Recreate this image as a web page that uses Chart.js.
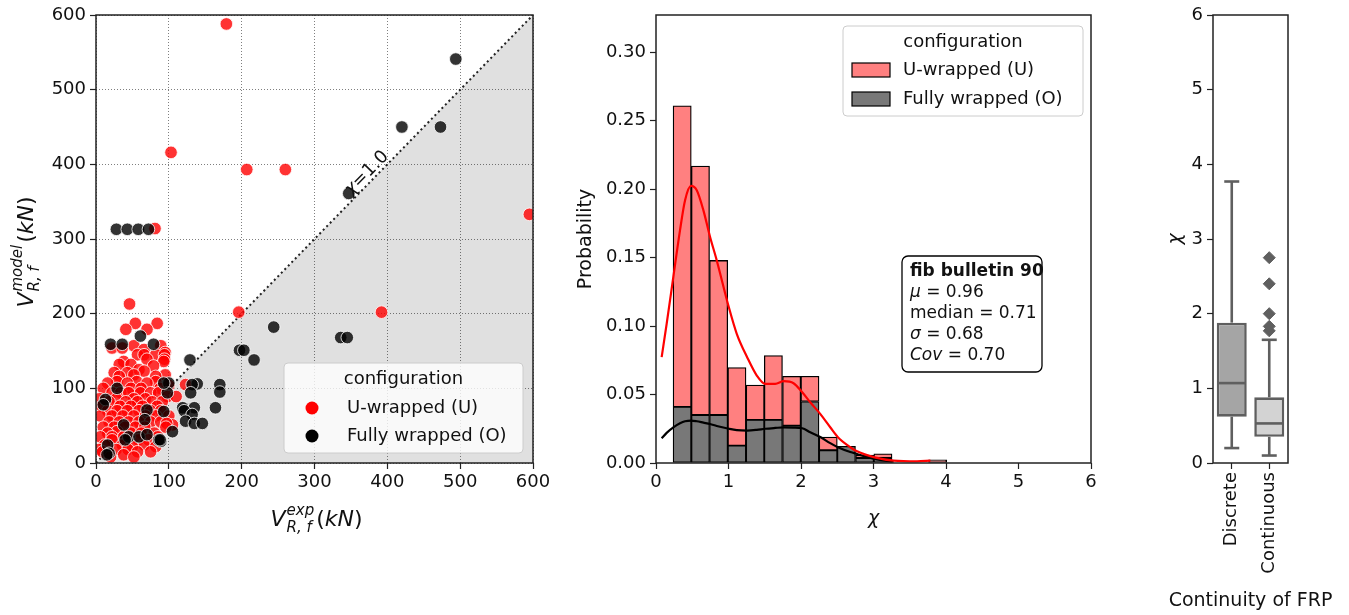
<!DOCTYPE html>
<html><head><meta charset="utf-8">
<script src="https://cdn.jsdelivr.net/npm/chart.js@4.4.0/dist/chart.umd.min.js"></script>
<style>
html,body{margin:0;padding:0;background:#fff;width:1349px;height:615px;overflow:hidden}
.box{position:absolute;top:0;height:615px}
</style></head><body>
<div class="box" style="left:0;width:560px"><canvas id="c1" width="560" height="615"></canvas></div>
<div class="box" style="left:560px;width:560px"><canvas id="c2" width="560" height="615"></canvas></div>
<div class="box" style="left:1120px;width:229px"><canvas id="c3" width="229" height="615"></canvas></div>
<script>
// ---------------- DATA ----------------
const unityLine = [0, 600];
const uWrapped = [
 [179,588],[103,416],[207,393],[260,393],[81,314],[46,213],[196,202],[392,202],[595,333],
 [54,187],[84,187],[41,179],[70,179],[52,157],[89,157],[22,154],[36,154],[66,152],[95,148],
 [57,145],[66,145],[82,145],[94,145],[70,139],[94,139],[38,136],[93,136],[32,132],[48,132],
 [79,130],[59,125],[66,123],[25,121],[43,121],[52,118],[95,118],[32,116],[82,116],
 [29,109],[56,109],[82,109],[16,107],[43,107],[70,107],[123,105],[100,104],
 [10,100],[48,100],[62,100],[88,100],[22,94],[34,94],[45,94],[61,94],[75,94],[86,94],
 [98,89],[110,89],[5,86],[28,86],[52,86],[68,86],[18,82],[41,82],[57,82],[77,82],[91,82],
 [8,76],[33,76],[48,76],[64,76],[84,76],[16,70],[29,70],[43,70],[59,70],[75,70],[89,70],
 [6,63],[22,63],[37,63],[52,63],[68,63],[82,63],[100,63],[18,55],[32,55],[45,55],[59,55],
 [75,55],[89,55],[105,51],[97,53],[10,48],[25,48],[40,48],[54,48],[67,48],[96,48],
 [29,42],[16,40],[48,40],[62,40],[80,40],[6,35],[22,35],[38,35],[85,35],[22,31],[58,31],
 [72,31],[12,24],[36,24],[66,24],[50,22],[82,22],[4,18],[28,18],[44,18],[9,15],[57,15],
 [75,15],[38,11],[20,8],[52,8]
];
const fullyWrapped = [
 [28,313],[43,313],[58,313],[72,313],[420,450],[473,450],[494,541],[347,361],
 [336,168],[345,168],[244,182],[197,151],[203,151],[217,138],[129,138],
 [170,105],[170,95],[139,106],[132,105],[130,94],[164,74],[119,74],[135,74],[121,70],
 [132,65],[123,56],[135,53],[146,53],[105,42],[100,107],[98,94],[89,29],
 [61,170],[20,159],[36,159],[79,159],[29,100],[93,107],[13,85],[10,78],[38,51],[70,71],
 [93,69],[67,58],[45,35],[59,35],[70,38],[86,31],[40,31],[88,31],[16,24],[18,13],[15,11]
];
const binCenters = [0.361,0.613,0.864,1.116,1.368,1.619,1.871,2.123,2.375,2.626,2.878,3.130,3.381,3.633,3.885];
const probO = [0.041,0.035,0.035,0.0127,0.0315,0.0315,0.0273,0.0449,0.0093,0.0122,0.0037,0.0037,0,0,0];
const probU = [0.220,0.182,0.113,0.057,0.0255,0.047,0.036,0.0185,0.0097,0,0.002,0.003,0,0,0.0024];
const kdeX = [0.078,0.147,0.239,0.331,0.401,0.483,0.562,0.654,0.746,0.838,1.004,1.114,1.257,1.390,1.506,1.644,1.763,1.897,2.017,2.127,2.265,2.403,2.509,2.680,2.772,3.016,3.278,3.600,3.785];
const kdeU = [0.0773,0.1017,0.1359,0.170,0.192,0.2024,0.1993,0.1846,0.1651,0.148,0.1139,0.0944,0.0773,0.0639,0.0578,0.0578,0.0598,0.0583,0.0517,0.0444,0.0359,0.0261,0.0188,0.0115,0.0085,0.0041,0.0017,0.0012,0.0017];
const kdeO = [0.018,0.022,0.026,0.029,0.0305,0.031,0.0305,0.0295,0.0285,0.027,0.025,0.024,0.0237,0.0242,0.025,0.0256,0.026,0.0259,0.0254,0.0225,0.019,0.0145,0.0115,0.008,0.0066,0.003,0.001,null,null];
const frpGroups = ['Discrete','Continuous'];
const whiskLo = [0.20,0.10];
const q1 = [0.62,0.35];
const med = [1.07,0.53];
const q3 = [1.88,0.88];
const whiskHi = [3.77,1.65];
const outliersCont = [1.77,1.83,2.00,2.40,2.75];
const stats = {mu:'0.96', median:'0.71', sigma:'0.68', cov:'0.70'};

// ---------------- STYLE ----------------
const FONT = 'DejaVu Sans';
const TXT = '#111';
Chart.defaults.font.family = FONT;
Chart.defaults.font.size = 18;
Chart.defaults.color = TXT;
Chart.defaults.animation = false;

const framePlugin = { id:'frame', afterDatasetsDraw(chart){
  const {ctx, chartArea:a} = chart; ctx.save();
  ctx.strokeStyle='#222'; ctx.lineWidth=1.5;
  ctx.strokeRect(a.left, a.top, a.right-a.left, a.bottom-a.top); ctx.restore(); } };

function drawV(ctx, cx, cy, rot, sup, sub, size){
  ctx.save(); ctx.translate(cx, cy); ctx.rotate(rot);
  ctx.fillStyle = TXT; ctx.textBaseline='alphabetic'; ctx.textAlign='left';
  const big = `italic ${size}px ${FONT}`, small = `italic ${Math.round(size*0.7)}px ${FONT}`, up = `${size}px ${FONT}`;
  ctx.font = big; const wV = ctx.measureText('V').width, wkN = ctx.measureText('kN').width;
  ctx.font = small; const wS = Math.max(ctx.measureText(sup).width, ctx.measureText(sub).width);
  ctx.font = up; const wP = ctx.measureText('(').width, wQ = ctx.measureText(')').width;
  const total = wV + 1 + wS + 2 + wP + wkN + wQ;
  let x = -total/2; const base = size*0.35;
  ctx.font = big; ctx.fillText('V', x, base); x += wV + 1;
  ctx.font = small; ctx.fillText(sup, x, base - size*0.48); ctx.fillText(sub, x, base + size*0.3); x += wS + 2;
  ctx.font = up; ctx.fillText('(', x, base); x += wP;
  ctx.font = big; ctx.fillText('kN', x, base); x += wkN;
  ctx.font = up; ctx.fillText(')', x, base);
  ctx.restore();
}

// ---------------- CHART 1 ----------------
const scatterDeco = { id:'scatterDeco', afterDraw(chart){
  const ctx = chart.ctx, xs = chart.scales.x, ys = chart.scales.y, a = chart.chartArea;
  // axis titles
  drawV(ctx, 25, 252, -Math.PI/2, 'model', 'R, f', 22);
  drawV(ctx, (a.left+a.right)/2 + 2, 518, 0, 'exp', 'R, f', 22);
  // unity label
  const px = xs.getPixelForValue(372), py = ys.getPixelForValue(388);
  const ang = Math.atan2(ys.getPixelForValue(600)-ys.getPixelForValue(0), xs.getPixelForValue(600)-xs.getPixelForValue(0));
  ctx.save(); ctx.translate(px, py); ctx.rotate(ang); ctx.fillStyle=TXT;
  ctx.textBaseline='middle';
  ctx.font = `italic 18px ${FONT}`; const w1 = ctx.measureText('χ').width;
  ctx.font = `18px ${FONT}`; const w2 = ctx.measureText('=1.0').width;
  ctx.textAlign='left';
  ctx.font = `italic 18px ${FONT}`; ctx.fillText('χ', -(w1+w2)/2, 0);
  ctx.font = `18px ${FONT}`; ctx.fillText('=1.0', -(w1+w2)/2 + w1, 0);
  ctx.restore();
  // legend
  const L = a.right - 249, T = a.bottom - 100, W = 239, H = 90;
  ctx.save();
  ctx.fillStyle='rgba(255,255,255,0.8)'; ctx.strokeStyle='#cccccc'; ctx.lineWidth=1;
  ctx.beginPath(); ctx.roundRect(L, T, W, H, 4); ctx.fill(); ctx.stroke();
  ctx.fillStyle=TXT; ctx.font=`18px ${FONT}`; ctx.textBaseline='middle';
  ctx.textAlign='center'; ctx.fillText('configuration', L+W/2, T+16);
  ctx.textAlign='left';
  const ds = chart.data.datasets;
  [[ds[1].label,'#ff0000',T+45],[ds[2].label,'#000000',T+73]].forEach(([t,c,y])=>{
    ctx.fillStyle=c; ctx.beginPath(); ctx.arc(L+28, y, 6.5, 0, Math.PI*2); ctx.fill();
    ctx.fillStyle=TXT; ctx.fillText(t, L+63, y);
  });
  ctx.restore();
}};

new Chart(document.getElementById('c1'), {
  type:'scatter',
  data:{ datasets:[
    { type:'line', label:'χ=1.0', data: unityLine.map(v=>({x:v,y:v})), fill:'start',
      backgroundColor:'#e0e0e0', borderColor:'#222', borderWidth:2, borderDash:[2,3],
      pointRadius:0, order:3 },
    { label:'U-wrapped (U)', data: uWrapped.map(p=>({x:p[0],y:p[1]})),
      backgroundColor:'rgba(255,0,0,0.8)', borderColor:'#ffffff', borderWidth:0.8, pointRadius:6.3, order:2 },
    { label:'Fully wrapped (O)', data: fullyWrapped.map(p=>({x:p[0],y:p[1]})),
      backgroundColor:'rgba(0,0,0,0.8)', borderColor:'#ffffff', borderWidth:0.8, pointRadius:6.3, order:1 }
  ]},
  options:{
    responsive:false, animation:false,
    layout:{padding:{left:0,right:27,top:15,bottom:0}},
    plugins:{legend:{display:false}, tooltip:{enabled:false}, filler:{drawTime:'beforeDraw'}},
    scales:{
      x:{type:'linear', min:0, max:600, ticks:{stepSize:100, padding:3, color:TXT},
         grid:{color:'rgba(0,0,0,0.5)', tickColor:'#222', tickLength:6, tickWidth:1.2},
         border:{display:false, dash:[1,2]}, afterFit(s){ s.height = 152; }},
      y:{type:'linear', min:0, max:600, ticks:{stepSize:100, padding:4, color:TXT},
         grid:{color:'rgba(0,0,0,0.5)', tickColor:'#222', tickLength:6, tickWidth:1.2},
         border:{display:false, dash:[1,2]}, afterFit(s){ s.width = 96; }}
    }
  },
  plugins:[framePlugin, scatterDeco]
});

// ---------------- CHART 2 ----------------
const PINK = '#ff8080', GRAY = '#787878';
const histDeco = { id:'histDeco', afterDraw(chart){
  const ctx = chart.ctx, a = chart.chartArea;
  // legend
  const L = a.right - 248, T = a.top + 11, W = 240, H = 90;
  ctx.save();
  ctx.fillStyle='rgba(255,255,255,0.8)'; ctx.strokeStyle='#cccccc'; ctx.lineWidth=1;
  ctx.beginPath(); ctx.roundRect(L, T, W, H, 4); ctx.fill(); ctx.stroke();
  ctx.fillStyle=TXT; ctx.font=`18px ${FONT}`; ctx.textBaseline='middle';
  ctx.textAlign='center'; ctx.fillText('configuration', L+W/2, T+16);
  ctx.textAlign='left';
  const ds = chart.data.datasets;
  [[ds[1].label,PINK,T+44],[ds[0].label,GRAY,T+73]].forEach(([t,c,y])=>{
    ctx.fillStyle=c; ctx.fillRect(L+9, y-7, 38, 14);
    ctx.strokeStyle='#000'; ctx.lineWidth=1.2; ctx.strokeRect(L+9, y-7, 38, 14);
    ctx.fillStyle=TXT; ctx.fillText(t, L+60, y);
  });
  // stats box
  const bx = a.left + 246, by = 256, bw = 140, bh = 116;
  ctx.fillStyle='#fff'; ctx.strokeStyle='#000'; ctx.lineWidth=1.3;
  ctx.beginPath(); ctx.roundRect(bx, by, bw, bh, 6); ctx.fill(); ctx.stroke();
  ctx.fillStyle=TXT; ctx.textAlign='left'; ctx.textBaseline='middle';
  const tx = bx + 8;
  const seg = (parts, y) => { let x = tx; parts.forEach(([t,f])=>{ ctx.font=f; ctx.fillText(t,x,y); x += ctx.measureText(t).width; }); };
  const R = `17px ${FONT}`, I = `italic 17px ${FONT}`, B = `bold 17px ${FONT}`;
  seg([['fib bulletin 90',B]], by+16);
  seg([['μ',I],[' = '+stats.mu,R]], by+37);
  seg([['median = '+stats.median,R]], by+58);
  seg([['σ',I],[' = '+stats.sigma,R]], by+79);
  seg([['Cov',I],[' = '+stats.cov,R]], by+100);
  ctx.restore();
}};

new Chart(document.getElementById('c2'), {
  type:'bar',
  data:{ datasets:[
    { label:'Fully wrapped (O)', data: binCenters.map((c,i)=>({x:c, y:[0, probO[i]]})),
      backgroundColor:GRAY, borderColor:'#000', borderWidth:1.3, borderSkipped:false,
      grouped:false, barPercentage:1, categoryPercentage:1, order:3 },
    { label:'U-wrapped (U)', data: binCenters.map((c,i)=>({x:c, y:[probO[i], probO[i]+probU[i]]})),
      backgroundColor:PINK, borderColor:'#000', borderWidth:1.3, borderSkipped:false,
      grouped:false, barPercentage:1, categoryPercentage:1, order:2 },
    { type:'line', label:'KDE O', data: kdeX.map((x,i)=>({x, y:kdeO[i]})), borderColor:'#000',
      borderWidth:2.2, pointRadius:0, cubicInterpolationMode:'monotone', spanGaps:false, order:1 },
    { type:'line', label:'KDE U', data: kdeX.map((x,i)=>({x, y:kdeU[i]})), borderColor:'#ff0000',
      borderWidth:2.2, pointRadius:0, cubicInterpolationMode:'monotone', order:0 }
  ]},
  options:{
    responsive:false, animation:false,
    layout:{padding:{left:0,right:29,top:15,bottom:0}},
    plugins:{legend:{display:false}, tooltip:{enabled:false}},
    scales:{
      x:{type:'linear', offset:false, min:0, max:6, ticks:{stepSize:1, padding:3, color:TXT},
         grid:{offset:false, drawOnChartArea:false, tickColor:'#222', tickLength:6, tickWidth:1.2},
         border:{display:false},
         title:{display:true, text:'χ', font:{style:'italic', size:19}, color:TXT, padding:{top:4,bottom:85}},
         afterFit(s){ s.height = 152; }},
      y:{type:'linear', min:0, max:0.3273, ticks:{stepSize:0.05, includeBounds:false, padding:4, color:TXT, callback:v=>v.toFixed(2)},
         grid:{drawOnChartArea:false, tickColor:'#222', tickLength:6, tickWidth:1.2},
         border:{display:false},
         title:{display:true, text:'Probability', font:{size:19}, color:TXT, padding:{top:15,bottom:4}},
         afterFit(s){ s.width = 96; }}
    }
  },
  plugins:[framePlugin, histDeco]
});

// ---------------- CHART 3 ----------------
const EDGE = '#5f5f5f';
const whiskerPlugin = { id:'whiskers', afterDatasetsDraw(chart){
  const ctx = chart.ctx, ys = chart.scales.y, meta = chart.getDatasetMeta(0), a = chart.chartArea;
  ctx.save(); ctx.strokeStyle = EDGE; ctx.lineWidth = 2.6;
  const line = (x1,y1,x2,y2)=>{ ctx.beginPath(); ctx.moveTo(x1,y1); ctx.lineTo(x2,y2); ctx.stroke(); };
  frpGroups.forEach((g,i)=>{
    const bar = meta.data[i], cx = bar.x, hw = bar.width/2;
    const yLo = ys.getPixelForValue(whiskLo[i]), yQ1 = ys.getPixelForValue(q1[i]);
    const yQ3 = ys.getPixelForValue(q3[i]), yHi = ys.getPixelForValue(whiskHi[i]);
    const yMd = ys.getPixelForValue(med[i]);
    line(cx, yQ3, cx, yHi); line(cx, yQ1, cx, yLo);
    line(cx-hw/2, yHi, cx+hw/2, yHi); line(cx-hw/2, yLo, cx+hw/2, yLo);
    line(cx-hw+1, yMd, cx+hw-1, yMd);
  });
  ctx.restore();
}};
const frpTitle = { id:'frpTitle', afterDraw(chart){
  const ctx = chart.ctx, a = chart.chartArea;
  ctx.save(); ctx.fillStyle = TXT; ctx.font = `19px ${FONT}`;
  ctx.textAlign='center'; ctx.textBaseline='middle';
  ctx.fillText('Continuity of FRP', (a.left+a.right)/2, 601);
  ctx.restore();
}};

new Chart(document.getElementById('c3'), {
  type:'bar',
  data:{ labels: frpGroups, datasets:[
    { label:'box', data: frpGroups.map((g,i)=>[q1[i], q3[i]]),
      backgroundColor:['#a5a5a5','#d3d3d3'], borderColor:EDGE, borderWidth:2.6, borderSkipped:false,
      barPercentage:0.8, categoryPercentage:1, order:2 },
    { type:'line', label:'outliers', data: outliersCont.map(v=>({x:'Continuous', y:v})), showLine:false,
      pointStyle:'rectRot', pointRadius:6, backgroundColor:EDGE, borderColor:EDGE, borderWidth:1, order:1 }
  ]},
  options:{
    responsive:false, animation:false,
    layout:{padding:{left:0,right:61,top:15,bottom:0}},
    plugins:{legend:{display:false}, tooltip:{enabled:false}},
    scales:{
      x:{type:'category', offset:true, ticks:{minRotation:90, maxRotation:90, padding:3, color:TXT},
         grid:{offset:false, drawOnChartArea:false, tickColor:'#222', tickLength:6, tickWidth:1.2},
         border:{display:false},
         afterFit(s){ s.height = 152; }},
      y:{type:'linear', min:0, max:6, ticks:{stepSize:1, padding:4, color:TXT},
         grid:{drawOnChartArea:false, tickColor:'#222', tickLength:6, tickWidth:1.2},
         border:{display:false},
         title:{display:true, text:'χ', font:{style:'italic', size:19}, color:TXT, padding:{top:45,bottom:4}},
         afterFit(s){ s.width = 93; }}
    }
  },
  plugins:[framePlugin, whiskerPlugin, frpTitle]
});
</script>
</body></html>
